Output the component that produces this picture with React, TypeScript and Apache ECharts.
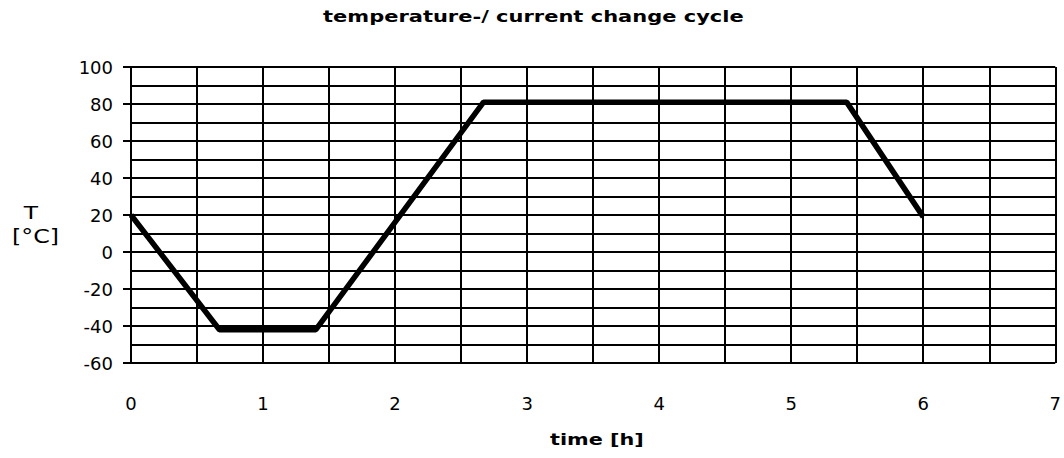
import React, { useEffect, useRef } from "react";
import * as echarts from "echarts";

const titleText = "temperature-/ current change cycle";
const xName = "time [h]";
const yNameTop = "T";
const yNameBottom = "[°C]";

const timeHours = [0, 0.67, 1.4, 2.67, 5.42, 6.0];
const temperatures = [20, -42, -42, 81, 81, 19];

const xMin = 0;
const xMax = 7;
const yMin = -60;
const yMax = 100;

export default function App() {
  const ref = useRef<HTMLDivElement>(null);

  useEffect(() => {
    if (!ref.current) return;
    const chart = echarts.init(ref.current, null, { renderer: "svg" });
    const font = "DejaVu Sans";
    const gridColor = "#000";
    chart.setOption({
      animation: false,
      backgroundColor: "#fff",
      grid: { left: 131, right: 4, top: 67, bottom: 95 },
      xAxis: {
        type: "value",
        min: xMin,
        max: xMax,
        interval: 1,
        axisLine: { show: true, lineStyle: { color: gridColor, width: 2 } },
        axisTick: { show: true, length: 7, lineStyle: { color: gridColor, width: 2 } },
        minorTick: { show: false, splitNumber: 2 },
        splitLine: { show: true, lineStyle: { color: gridColor, width: 2 } },
        minorSplitLine: { show: true, lineStyle: { color: gridColor, width: 2 } },
        axisLabel: {
          color: "#000",
          fontFamily: font,
          fontSize: 18,
          margin: 31,
        },
      },
      yAxis: {
        type: "value",
        min: yMin,
        max: yMax,
        interval: 20,
        axisLine: { show: true, lineStyle: { color: gridColor, width: 2 } },
        axisTick: { show: true, length: 8, lineStyle: { color: gridColor, width: 2 } },
        minorTick: { show: false, splitNumber: 2 },
        splitLine: { show: true, lineStyle: { color: gridColor, width: 2 } },
        minorSplitLine: { show: true, lineStyle: { color: gridColor, width: 2 } },
        axisLabel: {
          color: "#000",
          fontFamily: font,
          fontSize: 18,
          margin: 18,
        },
      },
      series: [
        {
          type: "line",
          data: timeHours.map((t, i) => [t, temperatures[i]]),
          symbol: "none",
          lineStyle: { color: "#000", width: 5.5 },
          z: 10,
        },
      ],
      graphic: [
        {
          type: "text",
          x: 323,
          y: 17,
          scaleX: 1.4,
          style: {
            text: titleText,
            fontFamily: font,
            fontSize: 15,
            fontWeight: "bold",
            fill: "#000",
            textVerticalAlign: "middle",
            textAlign: "left",
          },
        },
        {
          type: "text",
          x: 550,
          y: 439,
          scaleX: 1.3,
          style: {
            text: xName,
            fontFamily: font,
            fontSize: 16,
            fontWeight: "bold",
            fill: "#000",
            textVerticalAlign: "middle",
            textAlign: "left",
          },
        },
        {
          type: "text",
          x: 31,
          y: 213,
          scaleX: 1.3,
          style: {
            text: yNameTop,
            fontFamily: font,
            fontSize: 18,
            fill: "#000",
            textVerticalAlign: "middle",
            textAlign: "center",
          },
        },
        {
          type: "text",
          x: 12,
          y: 236,
          scaleX: 1.25,
          style: {
            text: yNameBottom,
            fontFamily: font,
            fontSize: 19,
            fill: "#000",
            textVerticalAlign: "middle",
            textAlign: "left",
          },
        },
      ],
    });
    return () => chart.dispose();
  }, []);

  return (
    <div
      ref={ref}
      style={{ position: "fixed", left: 0, top: 0, width: 1064, height: 458, background: "#fff" }}
    />
  );
}
